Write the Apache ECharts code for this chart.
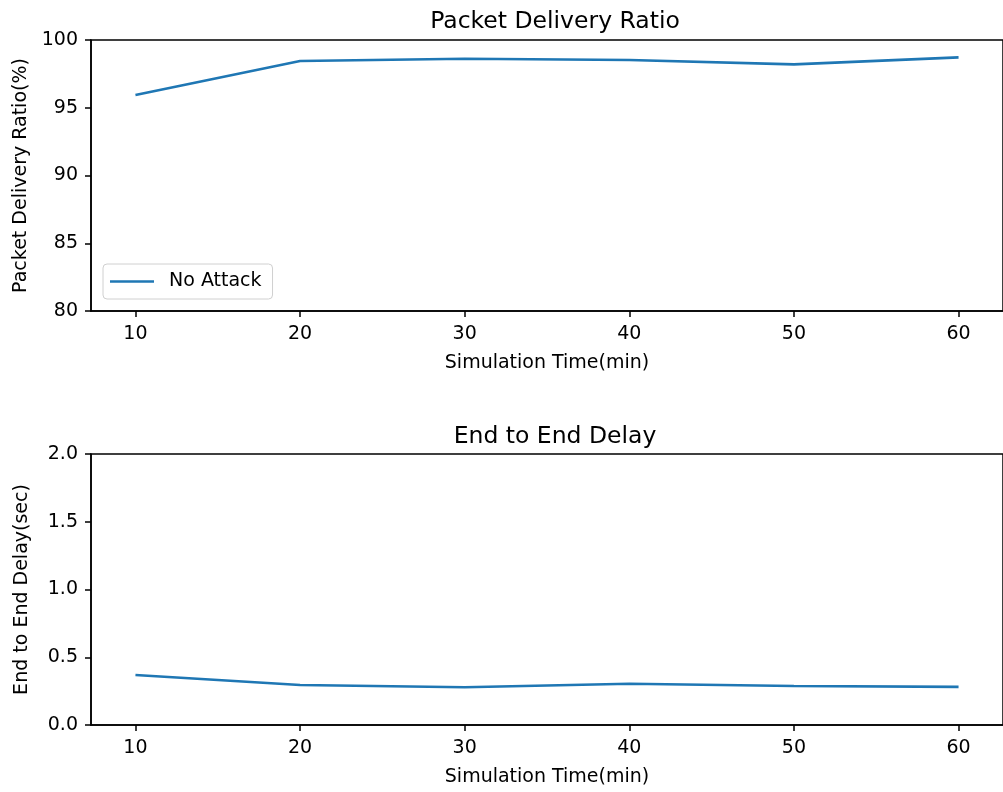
<!DOCTYPE html>
<html>
<head>
<meta charset="utf-8">
<style>
  html, body { margin: 0; padding: 0; background: #fff; }
  #chart { width: 1003px; height: 792px; }
</style>
<script src="https://cdn.jsdelivr.net/npm/echarts@6/dist/echarts.min.js"></script>
</head>
<body>
<div id="chart"></div>
<script>
// Simulation times (minutes)
const simTimes = [10, 20, 30, 40, 50, 60];
// Packet delivery ratio (%), no attack
const pdrNoAttack = [95.94, 98.45, 98.62, 98.52, 98.2, 98.72];
// End-to-end delay (sec), no attack
const delayNoAttack = [0.369, 0.295, 0.279, 0.304, 0.288, 0.281];
// Tick values
const xTicks = [10, 20, 30, 40, 50, 60];
const pdrTicks = [80, 85, 90, 95, 100];
const delayTicks = [0, 0.5, 1.0, 1.5, 2.0];

const FONT = 'DejaVu Sans';
const LABEL_SIZE = 19;
const TITLE_SIZE = 23.5;
const LINE_COLOR = '#1f77b4';

function pairs(xs, ys) { return xs.map((x, i) => [x, ys[i]]); }

function xAxisFor(gridIndex) {
  return {
    gridIndex: gridIndex,
    type: 'value',
    min: 7.3,
    max: 62.7,
    name: 'Simulation Time(min)',
    nameLocation: 'middle',
    nameGap: 43,
    nameTextStyle: { fontFamily: FONT, fontSize: LABEL_SIZE, color: '#000' },
    axisLine: { show: true, onZero: false, lineStyle: { color: '#000', width: 1.5 } },
    axisTick: { show: true, inside: false, length: 6, lineStyle: { color: '#000', width: 1.5 }, customValues: xTicks },
    axisLabel: { fontFamily: FONT, fontSize: LABEL_SIZE, color: '#000', margin: 14, customValues: xTicks },
    splitLine: { show: false }
  };
}

function yAxisFor(gridIndex, name, min, max, ticks, digits) {
  return {
    gridIndex: gridIndex,
    type: 'value',
    min: min,
    max: max,
    name: name,
    nameLocation: 'middle',
    nameGap: 59,
    nameTextStyle: { fontFamily: FONT, fontSize: LABEL_SIZE, color: '#000' },
    axisLine: { show: true, lineStyle: { color: '#000', width: 1.5 } },
    axisTick: { show: true, inside: false, length: 6, lineStyle: { color: '#000', width: 1.5 }, customValues: ticks },
    axisLabel: {
      fontFamily: FONT, fontSize: LABEL_SIZE, color: '#000', margin: 13, customValues: ticks,
      formatter: v => v.toFixed(digits)
    },
    splitLine: { show: false }
  };
}

const chart = echarts.init(document.getElementById('chart'), null, { renderer: 'canvas' });
chart.setOption({
  backgroundColor: '#fff',
  animation: false,
  title: [
    { text: 'Packet Delivery Ratio', left: 550, top: 5, textAlign: 'center',
      textStyle: { fontFamily: FONT, fontSize: TITLE_SIZE, fontWeight: 'normal', color: '#000' } },
    { text: 'End to End Delay', left: 550, top: 420, textAlign: 'center',
      textStyle: { fontFamily: FONT, fontSize: TITLE_SIZE, fontWeight: 'normal', color: '#000' } }
  ],
  legend: {
    data: ['No Attack'],
    left: 103,
    top: 264,
    orient: 'vertical',
    padding: [8, 11, 8, 7],
    itemWidth: 44,
    itemHeight: 2.5,
    icon: 'rect',
    backgroundColor: '#fff',
    borderColor: '#d0d0d0',
    borderWidth: 1,
    borderRadius: 4,
    textStyle: { fontFamily: FONT, fontSize: LABEL_SIZE, color: '#000', padding: [0, 0, 0, 10] }
  },
  grid: [
    { left: 91, right: -10, top: 40, height: 271, show: true, borderColor: '#000', borderWidth: 1.5, backgroundColor: 'transparent' },
    { left: 91, right: -10, top: 454, height: 271, show: true, borderColor: '#000', borderWidth: 1.5, backgroundColor: 'transparent' }
  ],
  xAxis: [xAxisFor(0), xAxisFor(1)],
  yAxis: [
    yAxisFor(0, 'Packet Delivery Ratio(%)', 80, 100, pdrTicks, 0),
    yAxisFor(1, 'End to End Delay(sec)', 0, 2, delayTicks, 1)
  ],
  series: [
    {
      name: 'No Attack',
      type: 'line',
      xAxisIndex: 0, yAxisIndex: 0,
      data: pairs(simTimes, pdrNoAttack),
      showSymbol: false,
      lineStyle: { color: LINE_COLOR, width: 2.6 },
      itemStyle: { color: LINE_COLOR }
    },
    {
      name: 'Delay',
      type: 'line',
      xAxisIndex: 1, yAxisIndex: 1,
      data: pairs(simTimes, delayNoAttack),
      showSymbol: false,
      lineStyle: { color: LINE_COLOR, width: 2.6 },
      itemStyle: { color: LINE_COLOR }
    }
  ]
});
</script>
</body>
</html>
